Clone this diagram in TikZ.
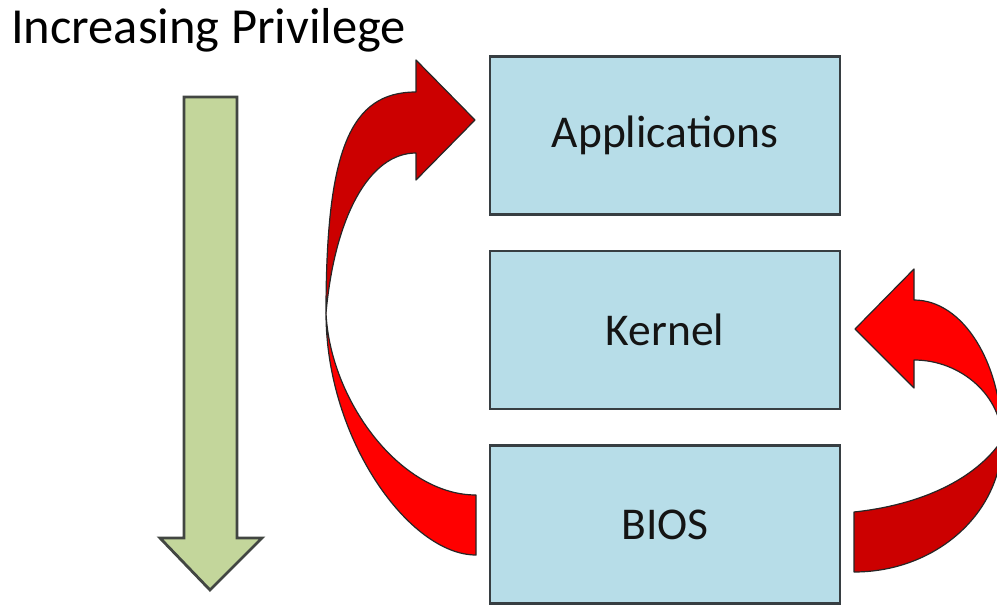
\documentclass[tikz,border=0pt]{standalone}
\usepackage{fontspec}
\setmainfont{Carlito}
\usetikzlibrary{positioning}
\definecolor{lyedge}{RGB}{55,62,66}
\definecolor{lyfill}{RGB}{183,221,232}
\definecolor{privfill}{RGB}{195,214,155}
\definecolor{privedge}{RGB}{66,70,66}
\definecolor{hopdark}{RGB}{204,0,0}
\definecolor{hopbright}{RGB}{255,0,0}
\tikzset{
  layer/.style={
    draw=lyedge, fill=lyfill, line width=2.6pt,
    minimum width=350pt, minimum height=158pt,
    font=\fontsize{45.5}{52}\selectfont, text=black!92
  },
  heading/.style={font=\fontsize{50.5}{58}\selectfont, inner sep=0pt, anchor=base west},
  privarrow/.style={draw=privedge, fill=privfill, line width=2.8pt, line join=miter},
  hopdk/.style={draw=black!85, fill=hopdark, line width=1.2pt, line join=round},
  hopbr/.style={hopdk, fill=hopbright}
}
\begin{document}
\begin{tikzpicture}[x=1pt, y=-1pt, node distance=34pt]
  \useasboundingbox (0,0) rectangle (997,608);
  \clip (0,0) rectangle (997,608);
  \node[heading] (priv) at (11,43) {Increasing Privilege};
  \node[layer] (apps) at (665,135.5) {Applications};
  \node[layer, below=of apps] (kern) {Kernel};
  \node[layer, below=of kern] (bios) {BIOS};
  % privilege goes down
  \draw[privarrow] (184,97) -- (237,97) -- (237,538) -- (262,538) -- (210,590)
    -- (160,538) -- (184,538) -- cycle;
  % BIOS -> Applications
  \draw[hopbr] (476,555) .. controls (410,555) and (326,440) .. (326,313)
    .. controls (330,400) and (400,495) .. (476,495) -- cycle;
  \draw[hopdk] (326,313) .. controls (326,150) and (350,92) .. (416,92)
    -- (416,60) -- (475,120) -- (416,180) -- (416,153)
    .. controls (370,153) and (335,215) .. (326,313) -- cycle;
  % BIOS -> Kernel
  \draw[hopdk] (854,572) .. controls (936,572) and (1002,513) .. (1002,440)
    .. controls (975,480) and (920,505) .. (854,512) -- cycle;
  \draw[hopbr] (1002,440) .. controls (1002,363) and (963,300) .. (914,300)
    -- (914,269) -- (855,329) -- (914,388) -- (914,360)
    .. controls (961,360) and (1002,396) .. (1002,440) -- cycle;
\end{tikzpicture}
\end{document}
